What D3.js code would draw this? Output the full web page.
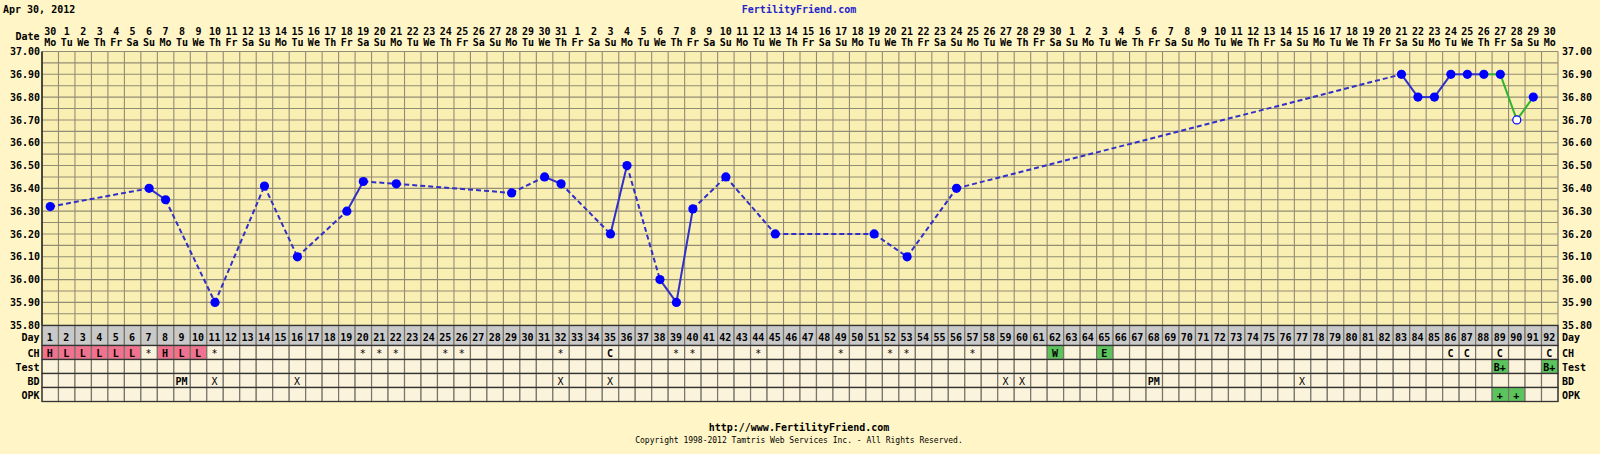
<!DOCTYPE html>
<html>
<head>
<meta charset="utf-8">
<script src="https://cdn.jsdelivr.net/npm/d3@7"></script>
<style>
  body { margin: 0; background: #fff5c6; }
  text { font-family: "DejaVu Sans Mono", monospace; font-weight: bold; font-size: 10px; fill: #000; }
</style>
</head>
<body>
<div id="chart"></div>
<script>
// chart values
const chartDate = "Apr 30, 2012";
const startDate = new Date(2012, 3, 30);
const cycleDays = d3.range(1, 93);
const yTicks = [35.80, 35.90, 36.00, 36.10, 36.20, 36.30, 36.40, 36.50, 36.60, 36.70, 36.80, 36.90, 37.00];
const weekNames = ["Su", "Mo", "Tu", "We", "Th", "Fr", "Sa"];

// temperatures by cycle day
const tempDays = [1, 7, 8, 11, 14, 16, 19, 20, 22, 29, 31, 32, 35, 36, 38, 39, 40, 42, 45, 51, 53, 56, 83, 84, 85, 86, 87, 88, 89, 90, 91];
const temps = [36.32, 36.40, 36.35, 35.90, 36.41, 36.10, 36.30, 36.43, 36.42, 36.38, 36.45, 36.42, 36.20, 36.50, 36.00, 35.90, 36.31, 36.45, 36.20, 36.20, 36.10, 36.40, 36.90, 36.80, 36.80, 36.90, 36.90, 36.90, 36.90, 36.70, 36.80];
const openDays = [90];   // hollow marker
const greenFrom = 88;    // segments from this day on are green

// table rows
const chDays = [1, 2, 3, 4, 5, 6, 7, 8, 9, 10, 11, 20, 21, 22, 25, 26, 32, 35, 39, 40, 44, 49, 52, 53, 57, 62, 65, 86, 87, 89, 92];
const chValues = ["H", "L", "L", "L", "L", "L", "*", "H", "L", "L", "*", "*", "*", "*", "*", "*", "*", "C", "*", "*", "*", "*", "*", "*", "*", "W", "E", "C", "C", "C", "C"];
const testDays = [89, 92];
const testValues = ["B+", "B+"];
const bdDays = [9, 11, 16, 32, 35, 59, 60, 68, 77];
const bdValues = ["PM", "X", "X", "X", "X", "X", "X", "PM", "X"];
const opkDays = [89, 90];
const opkValues = ["+", "+"];

const pink = "#f0728e", green = "#5cc45c";
const cellColor = { "H": pink, "L": pink, "W": green, "E": green, "B+": green, "+": green };

const W = 1600, H = 454;
const plotLeft = 42, plotRight = 1558, plotTop = 51.5, plotBottom = 325.2;

const svg = d3.select("#chart").append("svg")
    .attr("width", W)
    .attr("height", H);

svg.append("rect").attr("width", W).attr("height", H).attr("fill", "#fff5c6");

var x = d3.scaleBand().domain(cycleDays).range([plotLeft, plotRight]);
var y = d3.scaleLinear().domain([35.8, 37.0]).range([plotBottom, plotTop]);
const bw = x.bandwidth();
const cx = d => x(d) + bw / 2;

// plot background
svg.append("rect")
    .attr("x", plotLeft).attr("y", plotTop)
    .attr("width", plotRight - plotLeft).attr("height", plotBottom - plotTop)
    .attr("fill", "#faefb2");

// grid
const grid = svg.append("g").attr("stroke", "#928c74").attr("stroke-width", 1.1);
grid.selectAll(".h")
  .data(d3.range(0, 25))
  .enter().append("line")
    .attr("x1", plotLeft).attr("x2", plotRight)
    .attr("y1", i => y(35.8 + i * 0.05)).attr("y2", i => y(35.8 + i * 0.05));
grid.selectAll(".v")
  .data(cycleDays.concat([93]))
  .enter().append("line")
    .attr("x1", d => d === 93 ? plotRight : x(d)).attr("x2", d => d === 93 ? plotRight : x(d))
    .attr("y1", plotTop).attr("y2", plotBottom);

svg.append("line")
    .attr("x1", plotLeft).attr("x2", plotLeft).attr("y1", plotTop).attr("y2", plotBottom)
    .attr("stroke", "#222").attr("stroke-width", 1.5);

// y axes
const fmt = d3.format(".2f");
const yl = svg.append("g").attr("transform", `translate(${plotLeft},0)`)
    .call(d3.axisLeft(y).tickValues(yTicks).tickFormat(fmt).tickSize(0).tickPadding(2));
const yr = svg.append("g").attr("transform", `translate(${plotRight},0)`)
    .call(d3.axisRight(y).tickValues(yTicks).tickFormat(fmt).tickSize(0).tickPadding(4));
[yl, yr].forEach(g => {
  g.select(".domain").remove();
  g.selectAll("text").attr("font-family", null).attr("font-size", null).attr("fill", "#000");
});

// header
svg.append("text").attr("x", 3).attr("y", 12.5).text(chartDate);
svg.append("text").attr("x", 799).attr("y", 12.5).attr("text-anchor", "middle")
    .style("fill", "#2424cc").text("FertilityFriend.com");
svg.append("text").attr("x", 39.5).attr("y", 39.5).attr("text-anchor", "end").text("Date");

const dateOf = d => d3.timeDay.offset(startDate, d - 1);
svg.append("g").selectAll("text")
  .data(cycleDays).enter().append("text")
    .attr("x", cx).attr("y", 34.5).attr("text-anchor", "middle")
    .text(d => dateOf(d).getDate());
svg.append("g").selectAll("text")
  .data(cycleDays).enter().append("text")
    .attr("x", cx).attr("y", 46).attr("text-anchor", "middle")
    .text(d => weekNames[dateOf(d).getDay()]);

// temperature line
const pts = tempDays.map((d, i) => ({ day: d, t: temps[i] }));
svg.append("g").selectAll("line")
  .data(pts.slice(0, -1).map((p, i) => [p, pts[i + 1]]))
  .enter().append("line")
    .attr("x1", s => cx(s[0].day)).attr("y1", s => y(s[0].t))
    .attr("x2", s => cx(s[1].day)).attr("y2", s => y(s[1].t))
    .attr("stroke", s => s[0].day >= greenFrom ? "#2fb52f" : "#3030c8")
    .attr("stroke-width", 2)
    .attr("stroke-dasharray", s => s[1].day - s[0].day > 1 ? "5,3" : null);

svg.append("g").selectAll("circle")
  .data(pts).enter().append("circle")
    .attr("cx", p => cx(p.day)).attr("cy", p => y(p.t))
    .attr("r", p => openDays.includes(p.day) ? 4 : 4.6)
    .attr("fill", p => openDays.includes(p.day) ? "#ffffff" : "#0000ff")
    .attr("stroke", "#0000ff")
    .attr("stroke-width", p => openDays.includes(p.day) ? 1.2 : 0);

// table rows
const rows = [
  { label: "Day", y0: 325.5, h: 20, days: cycleDays, values: cycleDays.map(String), fill: "#c9c9c9" },
  { label: "CH", y0: 345.5, h: 14, days: chDays, values: chValues, fill: "#fcf3dc" },
  { label: "Test", y0: 359.5, h: 14, days: testDays, values: testValues, fill: "#fcf3dc" },
  { label: "BD", y0: 373.5, h: 14, days: bdDays, values: bdValues, fill: "#fcf3dc" },
  { label: "OPK", y0: 387.5, h: 14, days: opkDays, values: opkValues, fill: "#fcf3dc" }
];

rows.forEach(r => {
  const g = svg.append("g");
  const val = new Map(r.days.map((d, i) => [d, r.values[i]]));
  const ty = r.y0 + (r.label === "Day" ? 15.5 : 11.5);
  g.selectAll("rect")
    .data(cycleDays).enter().append("rect")
      .attr("x", d => x(d)).attr("y", r.y0)
      .attr("width", bw).attr("height", r.h)
      .attr("fill", d => (r.label !== "Day" && cellColor[val.get(d)]) || r.fill)
      .attr("stroke", "#77756a").attr("stroke-width", 1.2);
  g.selectAll("text")
    .data(r.days).enter().append("text")
      .attr("x", d => cx(d) - 0.5)
      .attr("y", ty)
      .attr("text-anchor", "middle")
      .style("font-weight", d => /[*X]/.test(val.get(d)) ? "normal" : "bold")
      .text(d => val.get(d));
  g.append("rect")
      .attr("x", plotLeft).attr("y", r.y0).attr("width", plotRight - plotLeft).attr("height", r.h)
      .attr("fill", "none").attr("stroke", "#333").attr("stroke-width", 1.2);
  svg.append("text").attr("x", 39.5).attr("y", ty).attr("text-anchor", "end").text(r.label);
  svg.append("text").attr("x", 1562).attr("y", ty).text(r.label);
});

// footer
svg.append("text").attr("x", 799).attr("y", 431).attr("text-anchor", "middle")
    .text("http://www.FertilityFriend.com");
svg.append("text").attr("x", 799).attr("y", 443).attr("text-anchor", "middle")
    .style("font-size", "8px").style("font-weight", "normal")
    .text("Copyright 1998-2012 Tamtris Web Services Inc. - All Rights Reserved.");
</script>
</body>
</html>
